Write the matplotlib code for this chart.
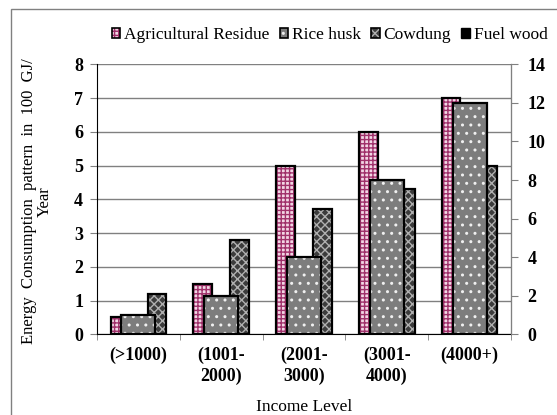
import numpy as np
import matplotlib
matplotlib.use("Agg")
import matplotlib.pyplot as plt
from matplotlib.patches import Patch
from matplotlib.legend_handler import HandlerTuple

plt.rcParams['font.family'] = ['Liberation Serif', 'DejaVu Serif']
plt.rcParams['hatch.linewidth'] = 1.0

categories = ["(>1000)", "(1001-\n2000)", "(2001-\n3000)", "(3001-\n4000)", "(4000+)"]
agri_residue = [0.5, 1.5, 5.0, 6.0, 7.0]   # left axis
cowdung = [1.2, 2.8, 3.7, 4.3, 5.0]        # left axis
rice_husk = [1, 2, 4, 8, 12]               # right axis

x = np.arange(len(categories))

fig = plt.figure(figsize=(5.57, 4.15), dpi=100)
ax = fig.add_axes([0.1741, 0.1945, 0.7433, 0.6505])
ax2 = ax.twinx()

w1 = 0.224
w2 = 0.41

AGRI = dict(face='#f2d6e4', hatch='++++', hc='#a0306a')
COW = dict(face='#3c3c3c', hatch='xxxx', hc='#b0b0b0')
RICE = dict(face='#7d7d7d', hatch='..', hc='#f0f0f0')


def hatched_bar(axis, xs, vals, width, st, z):
    axis.bar(xs, vals, width, color=st['face'], hatch=st['hatch'],
             edgecolor=st['hc'], linewidth=0, zorder=z)
    axis.bar(xs, vals, width, fill=False, edgecolor='black', linewidth=1.6,
             zorder=z + 0.1)


hatched_bar(ax, x - w1, agri_residue, w1, AGRI, 2)
hatched_bar(ax, x + w1, cowdung, w1, COW, 2)
hatched_bar(ax2, x, rice_husk, w2, RICE, 2)

ax.set_xlim(-0.5, 4.5)
ax.set_ylim(0, 8)
ax2.set_ylim(0, 14)
ax.set_yticks(range(0, 9))
ax2.set_yticks(range(0, 15, 2))

ax.yaxis.grid(True, color='#808080', linewidth=1.0, zorder=0)
ax.set_axisbelow(True)

ax.set_xticks(x)
ax.set_xticklabels(categories, fontweight='bold', fontsize=13, linespacing=1.3)
ax.tick_params(axis='x', length=0, pad=9)
ax.set_xticks(np.arange(-0.5, 5, 1), minor=True)
ax.tick_params(axis='x', which='minor', length=4, color='#808080')

ax.tick_params(axis='y', labelsize=13, length=5, color='#808080', pad=5)
ax2.tick_params(axis='y', labelsize=13, length=5, color='#808080', pad=7)
for lab in ax.get_yticklabels() + ax2.get_yticklabels():
    lab.set_fontweight('bold')

for a in (ax, ax2):
    a.spines['top'].set_visible(False)
ax.spines['left'].set_color('black')
ax.spines['bottom'].set_color('black')
ax.spines['bottom'].set_zorder(5)
ax2.spines['right'].set_color('#808080')
ax2.spines['left'].set_visible(False)
ax2.spines['bottom'].set_visible(False)

fig.text(0.546, 0.020, "Income Level", ha='center', va='center', fontsize=12.5)
fig.text(0.066, 0.515, "Energy  Consumption  pattern  in  100  GJ/\nYear",
         rotation=90, ha='center', va='center', fontsize=12,
         multialignment='center', linespacing=1.0)


def legend_box(st):
    fill = Patch(facecolor=st['face'], hatch=st['hatch'], edgecolor=st['hc'], linewidth=0)
    edge = Patch(fill=False, edgecolor='black', linewidth=1.2)
    return (fill, edge)


handles = [legend_box(AGRI), legend_box(RICE), legend_box(COW),
           Patch(facecolor='black', edgecolor='black')]
labels = ['Agricultural Residue', 'Rice husk', 'Cowdung', 'Fuel wood']
fig.legend(handles, labels, loc='center', bbox_to_anchor=(0.5916, 0.916), ncol=4,
           frameon=False, fontsize=12.5, handlelength=0.5, handleheight=0.5,
           handletextpad=0.2, columnspacing=0.6,
           handler_map={tuple: HandlerTuple(ndivide=1)})

border = plt.Rectangle((11 / 557, -0.01), 1.0, 1 - 9 / 415 + 0.01,
                       transform=fig.transFigure, fill=False,
                       edgecolor='#808080', linewidth=1.0)
fig.patches.append(border)

fig.savefig("out.png", dpi=100)
